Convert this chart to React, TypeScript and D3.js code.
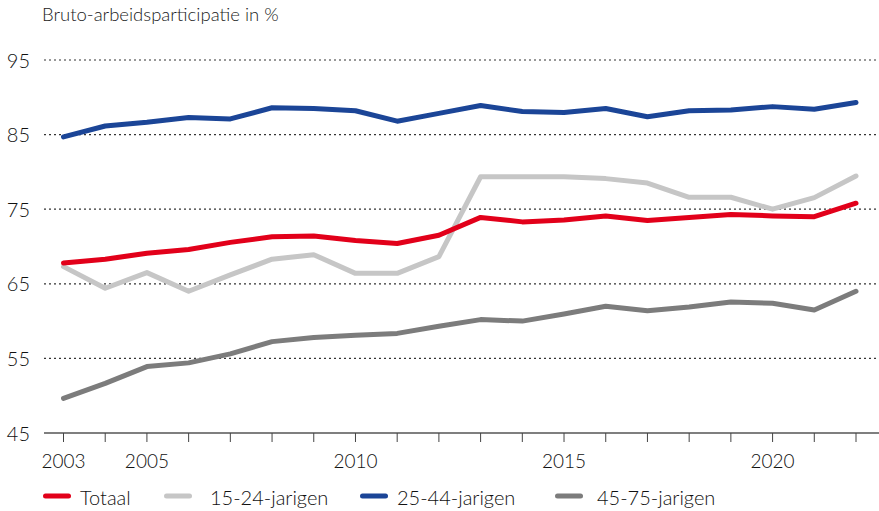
import React from "react";
import * as d3 from "d3";

const years = d3.range(2003, 2023);
const totaal = [67.8, 68.3, 69.1, 69.6, 70.55, 71.3, 71.4, 70.8, 70.4, 71.5, 73.9, 73.3, 73.55, 74.1, 73.5, 73.9, 74.3, 74.1, 74.0, 75.8];
const jong = [67.3, 64.4, 66.5, 64.0, 66.2, 68.3, 68.9, 66.4, 66.4, 68.65, 79.35, 79.35, 79.35, 79.1, 78.5, 76.6, 76.6, 75.0, 76.55, 79.45];
const midden = [84.7, 86.15, 86.65, 87.3, 87.1, 88.6, 88.5, 88.2, 86.8, 87.85, 88.9, 88.1, 87.95, 88.5, 87.4, 88.2, 88.3, 88.75, 88.4, 89.3];
const oud = [49.65, 51.65, 53.9, 54.4, 55.6, 57.25, 57.8, 58.1, 58.35, 59.3, 60.2, 60.0, 60.95, 62.0, 61.4, 61.9, 62.55, 62.4, 61.5, 64.0];
const yTicks = [45, 55, 65, 75, 85, 95];
const xLabels = [2003, 2005, 2010, 2015, 2020];
const seriesNames = ["Totaal", "15-24-jarigen", "25-44-jarigen", "45-75-jarigen"];
const seriesColors = ["#e2001a", "#c6c6c6", "#1b4597", "#7c7c7c"];
const title = "Bruto-arbeidsparticipatie in %";

export default function App() {
  const W = 879, H = 511;
  const x = d3.scaleLinear().domain([2003, 2022]).range([63.5, 856]);
  const y = d3.scaleLinear().domain([45, 95]).range([433, 60]);
  const line = d3.line<number>().x((_, i) => x(years[i])).y((d) => y(d));
  const series = [jong, oud, midden, totaal];
  const cols = [seriesColors[1], seriesColors[3], seriesColors[2], seriesColors[0]];
  const font = "Lato, 'Open Sans', sans-serif";
  const legendX = [43, 164, 360, 555];
  const legendTextX = [80, 210, 397, 597];
  return (
    <svg width={W} height={H} style={{ position: "absolute", left: 0, top: 0, background: "#fff" }} fontFamily={font} fontWeight={300}>
      <text x={42} y={21} fontSize={18.5} fill="#1a1a1a">{title}</text>
      {yTicks.map((t) => (
        <g key={t}>
          {t !== 45 && (
            <line x1={44} x2={879} y1={y(t)} y2={y(t)} stroke="#333" strokeWidth={1.2} strokeDasharray="2,3" />
          )}
          <text x={30} y={y(t) + 7.5} fontSize={20} textAnchor="end" fill="#111">{t}</text>
        </g>
      ))}
      <line x1={44} x2={879} y1={y(45)} y2={y(45)} stroke="#555" strokeWidth={1.5} />
      {years.map((yr) => (
        <line key={yr} x1={x(yr)} x2={x(yr)} y1={y(45)} y2={y(45) + 9} stroke="#444" strokeWidth={1} />
      ))}
      {xLabels.map((yr) => (
        <text key={yr} x={x(yr)} y={468} fontSize={19} textAnchor="middle" fill="#111">{yr}</text>
      ))}
      {series.map((s, i) => (
        <path key={i} d={line(s) || ""} fill="none" stroke={cols[i]} strokeWidth={5} strokeLinejoin="round" strokeLinecap="round" />
      ))}
      {seriesNames.map((n, i) => (
        <g key={n}>
          <line x1={legendX[i] + 2.5} x2={legendX[i] + 25.5} y1={496} y2={496} stroke={seriesColors[i]} strokeWidth={5} strokeLinecap="round" />
          <text x={legendTextX[i]} y={505} fontSize={20} fill="#111">{n}</text>
        </g>
      ))}
    </svg>
  );
}
